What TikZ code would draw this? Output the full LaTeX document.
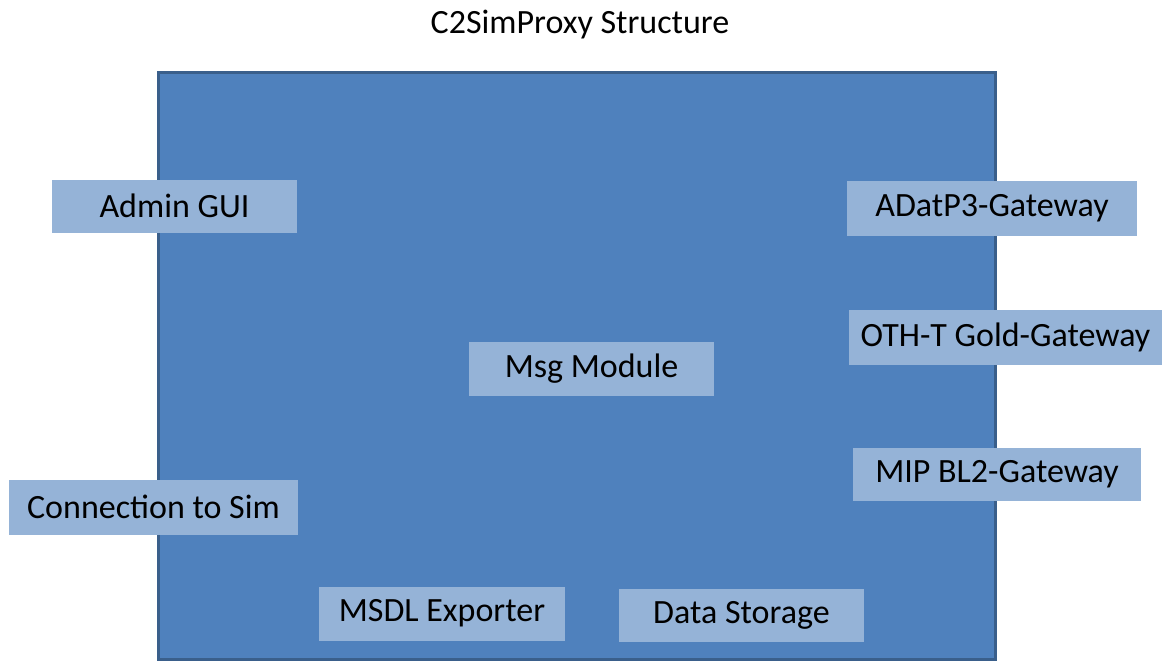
\documentclass[tikz,border=0pt]{standalone}
\usepackage{fontspec}
\setmainfont{Carlito}
\definecolor{mainfill}{HTML}{4F81BD}
\definecolor{mainedge}{HTML}{3A5F8B}
\definecolor{boxfill}{HTML}{95B3D7}
\begin{document}
\begin{tikzpicture}[x=1pt,y=-1pt,
  compbox/.style={fill=boxfill,draw=none,inner sep=0pt,minimum width=#1,font=\fontsize{34}{38}\selectfont,text=black},
  compbox/.default=245pt]
\useasboundingbox (0,0) rectangle (1176,662);
\fill[white] (0,0) rectangle (1176,662);
\node[font=\fontsize{34}{38}\selectfont,inner sep=0pt] (title) at (580,25) {C2SimProxy Structure};
\path[fill=mainfill,draw=mainedge,line width=3pt] (158,72) rectangle (995,659.5);
\coordinate (mainbox) at (576.5,366);
\node[compbox=245pt,minimum height=53pt] (admin) at (174.5,206) {Admin GUI};
\node[compbox=290pt,minimum height=55pt] (adatp) at (992,208) {ADatP3-Gateway};
\node[compbox=313pt,minimum height=55pt] (oth) at (1005.5,337) {OTH-T Gold-Gateway};
\node[compbox=288pt,minimum height=53pt] (mip) at (997,474) {MIP BL2-Gateway};
\node[compbox=245pt,minimum height=54pt] (msg) at (591.5,368.5) {Msg Module};
\node[compbox=289pt,minimum height=55pt] (conn) at (153.5,507) {Connection to Sim};
\node[compbox=246pt,minimum height=54pt] (msdl) at (442,613.5) {MSDL Exporter};
\node[compbox=245pt,minimum height=53pt] (store) at (741.5,615) {Data Storage};
\end{tikzpicture}
\end{document}
